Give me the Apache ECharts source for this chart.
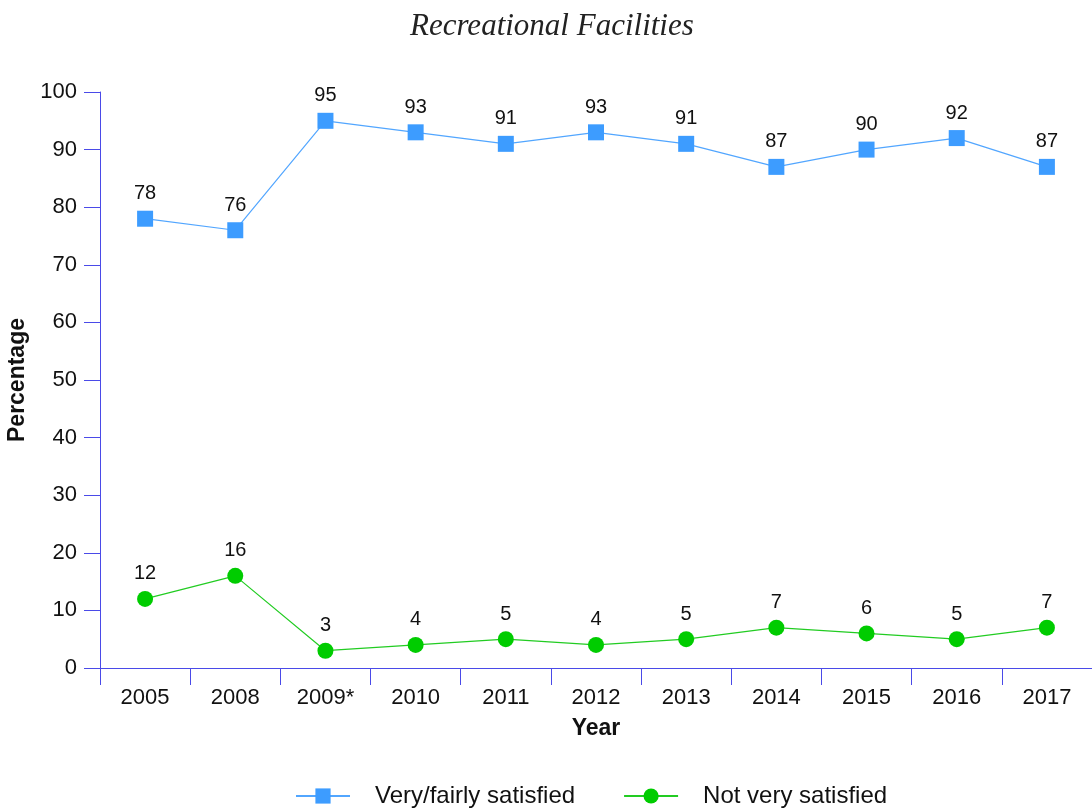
<!DOCTYPE html>
<html>
<head>
<meta charset="utf-8">
<script src="https://cdn.jsdelivr.net/npm/echarts@6/dist/echarts.min.js"></script>
<style>
  html, body { margin: 0; padding: 0; background: #fff; }
  #chart { width: 1092px; height: 810px; }
</style>
</head>
<body>
<div id="chart"></div>
<script>
// Survey years and satisfaction shares (percent)
const years = ['2005', '2008', '2009*', '2010', '2011', '2012', '2013', '2014', '2015', '2016', '2017'];
const satisfied = [78, 76, 95, 93, 91, 93, 91, 87, 90, 92, 87];
const notSatisfied = [12, 16, 3, 4, 5, 4, 5, 7, 6, 5, 7];
const seriesNames = ['Very/fairly satisfied', 'Not very satisfied'];

const axisBlue = '#4a4ae8';
const font = 'Liberation Sans, Arial, Helvetica, sans-serif';

const chart = echarts.init(document.getElementById('chart'));
chart.setOption({
  animation: false,
  backgroundColor: '#ffffff',
  title: {
    text: 'Recreational Facilities',
    left: 405,
    top: 6,
    textStyle: {
      fontFamily: 'Liberation Serif, DejaVu Serif, serif',
      fontStyle: 'italic',
      fontWeight: 'normal',
      fontSize: 31,
      color: '#222'
    }
  },
  legend: {
    top: 779,
    left: 290,
    itemWidth: 54,
    itemHeight: 19,
    itemGap: 48,
    textStyle: { fontFamily: font, fontSize: 24, color: '#111', padding: [0, 0, 0, 20] },
    data: seriesNames
  },
  grid: { left: 100, right: 0, top: 92, bottom: 142, containLabel: false, outerBoundsMode: 'none' },
  xAxis: {
    type: 'category',
    data: years,
    boundaryGap: true,
    name: 'Year',
    nameLocation: 'middle',
    nameGap: 49,
    nameTextStyle: { fontFamily: font, fontSize: 23, fontWeight: 'bold', color: '#111' },
    axisLine: { lineStyle: { color: axisBlue, width: 1 } },
    axisTick: { show: true, interval: 0, length: 17, lineStyle: { color: axisBlue } },
    axisLabel: { fontFamily: font, fontSize: 22, color: '#111', margin: 19 },
    splitLine: { show: false }
  },
  yAxis: {
    type: 'value',
    min: 0,
    max: 100,
    interval: 10,
    name: 'Percentage',
    nameLocation: 'middle',
    nameGap: 66,
    nameTextStyle: { fontFamily: font, fontSize: 23, fontWeight: 'bold', color: '#111' },
    axisLine: { show: true, lineStyle: { color: axisBlue, width: 1 } },
    axisTick: { show: true, length: 16, lineStyle: { color: axisBlue } },
    axisLabel: { fontFamily: font, fontSize: 22, color: '#111', margin: 23 },
    splitLine: { show: false }
  },
  series: [
    {
      name: seriesNames[0],
      type: 'line',
      data: satisfied,
      symbol: 'rect',
      symbolSize: 16,
      itemStyle: { color: '#3d9cff' },
      lineStyle: { color: '#52a6ff', width: 1.2 },
      label: {
        show: true, position: 'top', distance: 7,
        fontFamily: font, fontSize: 20, color: '#111'
      }
    },
    {
      name: seriesNames[1],
      type: 'line',
      data: notSatisfied,
      symbol: 'circle',
      symbolSize: 16,
      itemStyle: { color: '#00cc00' },
      lineStyle: { color: '#22cc22', width: 1.2 },
      label: {
        show: true, position: 'top', distance: 7,
        fontFamily: font, fontSize: 20, color: '#111'
      }
    }
  ]
});
</script>
</body>
</html>
